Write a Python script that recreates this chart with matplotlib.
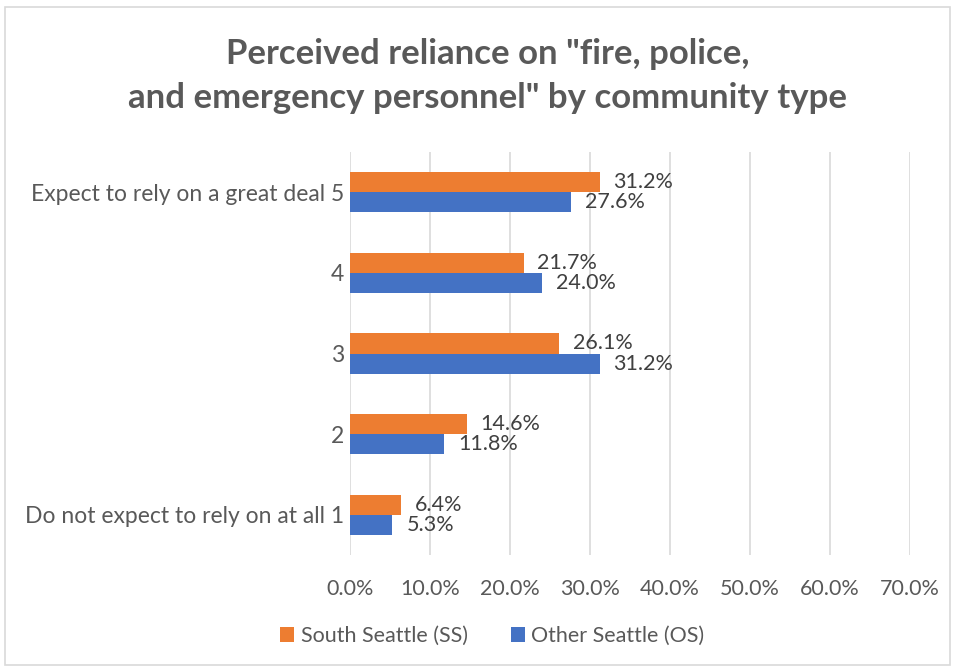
import matplotlib.pyplot as plt
import numpy as np
from matplotlib.patches import Rectangle

# data
categories = ['Do not expect to rely on at all 1', '2', '3', '4',
              'Expect to rely on a great deal 5']
south_seattle = [6.4, 14.6, 26.1, 21.7, 31.2]
other_seattle = [5.3, 11.8, 31.2, 24.0, 27.6]
xticks = [0, 10, 20, 30, 40, 50, 60, 70]

plt.rcParams['font.family'] = ['Lato', 'DejaVu Sans']
grey = '#595959'
orange = '#ED7D31'
blue = '#4472C4'

fig = plt.figure(figsize=(9.56, 6.71), dpi=100)
ax = fig.add_axes([350 / 956, 1 - 555 / 671, 560 / 956, 403 / 671])

y = np.arange(len(categories))
h = 0.25
bars_ss = ax.barh(y + h / 2, south_seattle, height=h, color=orange, label='South Seattle (SS)', zorder=3)
bars_os = ax.barh(y - h / 2, other_seattle, height=h, color=blue, label='Other Seattle (OS)', zorder=3)

for bars in (bars_ss, bars_os):
    for b in bars:
        v = b.get_width()
        ax.annotate(f'{v:.1f}%', (v, b.get_y() + b.get_height() / 2),
                    xytext=(10, 0), textcoords='offset points',
                    va='center', ha='left', fontsize=15.5, color='#404040')

ax.set_xlim(0, 70)
ax.set_ylim(-0.5, len(categories) - 0.5)
ax.set_xticks(xticks)
ax.set_xticklabels([f'{t:.1f}%' for t in xticks])
ax.set_yticks(y)
ax.set_yticklabels(categories)
ax.tick_params(axis='both', length=0, labelcolor=grey)
ax.tick_params(axis='x', pad=17, labelsize=15.5)
ax.tick_params(axis='y', pad=4, labelsize=16.5)
ax.grid(axis='x', color='#D9D9D9', linewidth=1.2, zorder=0)
for s in ax.spines.values():
    s.set_visible(False)

fig.text(0.51, 1 - 76 / 671, 'Perceived reliance on "fire, police,\nand emergency personnel" by community type',
         ha='center', va='center', fontsize=25, fontweight='bold', color=grey, linespacing=1.5)

handles, labels = ax.get_legend_handles_labels()
fig.legend(handles, labels, loc='center', bbox_to_anchor=(0.515, 1 - 636 / 671), ncol=2,
           frameon=False, fontsize=15.5, labelcolor=grey, handlelength=0.65, handleheight=0.65,
           handletextpad=0.3, columnspacing=2.0)

fig.patches.append(Rectangle((5 / 956, 1 - 665 / 671), 945 / 956, 658 / 671,
                             transform=fig.transFigure, fill=False, edgecolor='#D9D9D9', linewidth=1.2))

fig.savefig('out.png', dpi=100)
